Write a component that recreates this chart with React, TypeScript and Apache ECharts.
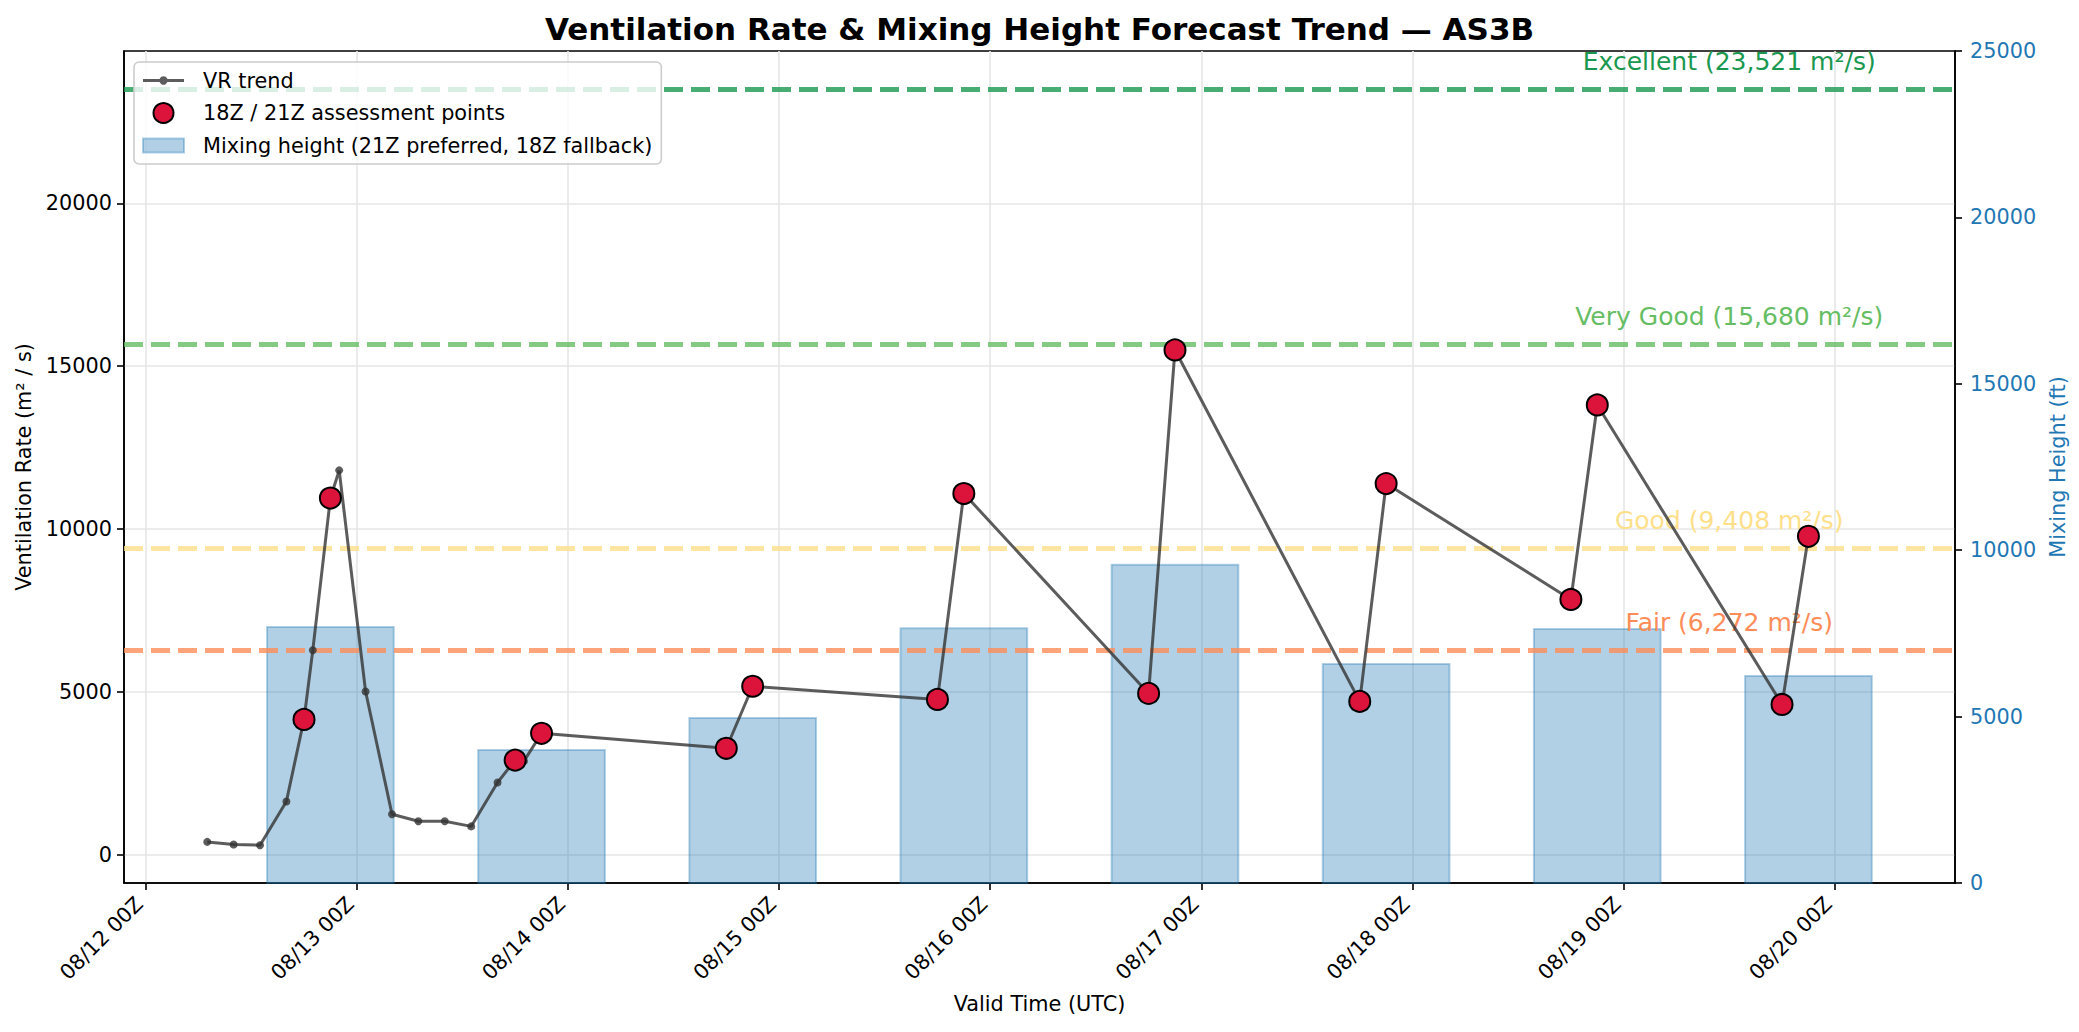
import React, { useEffect, useRef } from "react";
import * as echarts from "echarts";

// ---- data ----
const baseDay = 12; // 08/12 00Z is day 0
const trendTimes = ["08/12 07Z", "08/12 10Z", "08/12 13Z", "08/12 16Z", "08/12 19Z", "08/12 22Z", "08/13 01Z", "08/13 04Z", "08/13 07Z", "08/13 10Z", "08/13 13Z", "08/13 16Z", "08/13 19Z"];
const trendValues = [389, 307, 288, 1632, 6278, 11801, 5010, 1240, 1025, 1025, 865, 2215, 2870];

const assessTimes = ["08/12 18Z", "08/12 21Z", "08/13 18Z", "08/13 21Z", "08/14 18Z", "08/14 21Z", "08/15 18Z", "08/15 21Z", "08/16 18Z", "08/16 21Z", "08/17 18Z", "08/17 21Z", "08/18 18Z", "08/18 21Z", "08/19 18Z", "08/19 21Z"];
const assessValues = [4150, 10950, 2900, 3725, 3265, 5170, 4765, 11090, 4950, 15500, 4705, 11395, 7835, 13810, 4610, 9775];

const mixTimes = ["08/12 21Z", "08/13 21Z", "08/14 21Z", "08/15 21Z", "08/16 21Z", "08/17 21Z", "08/18 21Z", "08/19 21Z"];
const mixHeights = [7690, 4000, 4960, 7655, 9565, 6577, 7634, 6219];
const mixBarWidthDays = 0.6;

const xTickLabels = ["08/12 00Z", "08/13 00Z", "08/14 00Z", "08/15 00Z", "08/16 00Z", "08/17 00Z", "08/18 00Z", "08/19 00Z", "08/20 00Z"];
const leftTicks = [0, 5000, 10000, 15000, 20000];
const rightTicks = [0, 5000, 10000, 15000, 20000, 25000];

const thresholdNames = ["Fair", "Good", "Very Good", "Excellent"];
const thresholdValues = [6272, 9408, 15680, 23521];
const thresholdColors = ["#fc8d59", "#fee08b", "#66bd63", "#1a9850"];
const thresholdLabelTime = "08/19 12Z";

const FONT = "'DejaVu Sans', sans-serif";

function toDays(s: string): number {
  const [md, hz] = s.split(" ");
  const [, d] = md.split("/").map(Number);
  const h = parseInt(hz, 10);
  return d - baseDay + h / 24;
}

export default function App() {
  const ref = useRef<HTMLDivElement>(null);

  useEffect(() => {
    if (!ref.current) return;
    const chart = echarts.init(ref.current, undefined, { renderer: "svg" });

    const trendPts = trendTimes.map((t, i) => [toDays(t), trendValues[i]]);
    const assessPts = assessTimes.map((t, i) => [toDays(t), assessValues[i]]);
    const linePts = [...trendPts, ...assessPts].sort((a, b) => a[0] - b[0]);
    const barPts = mixTimes.map((t, i) => [toDays(t), mixHeights[i]]);

    // matplotlib-like 5% margins
    const xs = [...linePts.map((p) => p[0]), ...barPts.map((p) => p[0] - mixBarWidthDays / 2), ...barPts.map((p) => p[0] + mixBarWidthDays / 2)];
    const xLo = Math.min(...xs), xHi = Math.max(...xs);
    const xMin = xLo - 0.05 * (xHi - xLo);
    const xMax = xHi + 0.05 * (xHi - xLo);
    const ys = [...linePts.map((p) => p[1]), ...thresholdValues];
    const yLo = Math.min(...ys), yHi = Math.max(...ys);
    const yMin = yLo - 0.05 * (yHi - yLo);
    const yMax = yHi + 0.05 * (yHi - yLo);

    const xTickVals = xTickLabels.map((s) => toDays(s));
    const labelX = toDays(thresholdLabelTime);

    const axisLineStyle = { color: "#000", width: 1.6 };
    const gridLine = { show: true, lineStyle: { color: "#e6e6e6", width: 1.6 } };
    const plain = (v: number) => String(v);

    const option: any = {
      animation: false,
      backgroundColor: "#fff",
      title: {
        text: "Ventilation Rate & Mixing Height Forecast Trend — AS3B",
        left: "center",
        top: 8,
        textStyle: { fontSize: 31, fontWeight: "bold", fontFamily: FONT, color: "#000" },
      },
      grid: { left: 124, right: 124, top: 51, bottom: 149, show: true, borderColor: "#000", borderWidth: 1.6, backgroundColor: "transparent" },
      legend: {
        orient: "vertical",
        left: 134,
        top: 62,
        padding: [8, 9, 8, 8],
        itemGap: 11,
        itemWidth: 41,
        itemHeight: 20,
        backgroundColor: "rgba(255,255,255,0.8)",
        borderColor: "#cccccc",
        borderWidth: 1.6,
        borderRadius: 5,
        textStyle: { fontSize: 20.8, fontFamily: FONT, color: "#000", padding: [0, 0, 0, 14] },
        data: [
          { name: "VR trend", icon: "path://M0,9H41V12H0Z M20.5,6.3A4.2,4.2 0 1,1 20.49,6.3Z", itemStyle: { color: "rgba(51,51,51,0.8)" } },
          { name: "18Z / 21Z assessment points", icon: "circle" },
          { name: "Mixing height (21Z preferred, 18Z fallback)", icon: "path://M0,0H41V14H0Z" },
        ],
      },
      xAxis: {
        type: "value",
        min: xMin,
        max: xMax,
        axisLine: { show: true, onZero: false, lineStyle: axisLineStyle },
        axisTick: { show: true, length: 7, lineStyle: axisLineStyle, customValues: xTickVals },
        axisLabel: {
          customValues: xTickVals,
          formatter: (v: number) => xTickLabels[Math.round(v)] ?? "",
          rotate: 45,
          fontSize: 20.8,
          fontFamily: FONT,
          color: "#000",
          margin: 11,
          padding: [0, 9, 0, 0],
        },
        splitLine: gridLine,
        name: "Valid Time (UTC)",
        nameLocation: "middle",
        nameGap: 110,
        nameTextStyle: { fontSize: 20.8, fontFamily: FONT, color: "#000" },
      },
      yAxis: [
        {
          type: "value",
          min: yMin,
          max: yMax,
          position: "left",
          axisLine: { show: true, onZero: false, lineStyle: axisLineStyle },
          axisTick: { show: true, length: 7, lineStyle: axisLineStyle, customValues: leftTicks },
          axisLabel: { customValues: leftTicks, formatter: plain, fontSize: 20.8, fontFamily: FONT, color: "#000", margin: 12 },
          splitLine: gridLine,
          name: "Ventilation Rate (m² / s)",
          nameLocation: "middle",
          nameRotate: 90,
          nameGap: 84,
          nameTextStyle: { fontSize: 20.8, fontFamily: FONT, color: "#000" },
        },
        {
          type: "value",
          min: rightTicks[0],
          max: rightTicks[rightTicks.length - 1],
          interval: rightTicks[1] - rightTicks[0],
          position: "right",
          axisLine: { show: true, onZero: false, lineStyle: axisLineStyle },
          axisTick: { show: true, length: 7, lineStyle: axisLineStyle },
          axisLabel: { formatter: plain, fontSize: 20.8, fontFamily: FONT, color: "#1f77b4", margin: 15 },
          splitLine: { show: false },
          name: "Mixing Height (ft)",
          nameLocation: "middle",
          nameRotate: 90,
          nameGap: 80,
          nameTextStyle: { fontSize: 20.8, fontFamily: FONT, color: "#1f77b4" },
        },
      ],
      series: [
        {
          name: "Mixing height (21Z preferred, 18Z fallback)",
          type: "custom",
          xAxisIndex: 0,
          yAxisIndex: 1,
          z: 1,
          encode: { x: 0, y: 1 },
          data: barPts,
          itemStyle: { color: "rgba(31,119,180,0.35)", borderColor: "rgba(31,119,180,0.35)", borderWidth: 2 },
          renderItem: (params: any, api: any) => {
            const x = api.value(0);
            const h = api.value(1);
            const p0 = api.coord([x - mixBarWidthDays / 2, h]);
            const p1 = api.coord([x + mixBarWidthDays / 2, 0]);
            return {
              type: "rect",
              shape: { x: p0[0], y: p0[1], width: p1[0] - p0[0], height: p1[1] - p0[1] },
              style: { fill: "rgba(31,119,180,0.35)", stroke: "rgba(31,119,180,0.35)", lineWidth: 2 },
            };
          },
        },
        {
          name: "thresholds",
          type: "line",
          xAxisIndex: 0,
          yAxisIndex: 0,
          z: 2,
          data: [],
          markLine: {
            silent: true,
            z: 2,
            symbol: ["none", "none"],
            label: { show: false },
            data: thresholdValues.map((v, i) => ({
              yAxis: v,
              lineStyle: { color: thresholdColors[i], width: 5, type: [19, 8], opacity: 0.8 },
            })),
          },
          markPoint: {
            silent: true,
            z: 3,
            symbol: "circle",
            symbolSize: 0.01,
            itemStyle: { color: "transparent" },
            data: thresholdValues.map((v, i) => ({
              coord: [labelX, v],
              label: {
                show: true,
                position: "top",
                distance: 15,
                formatter: `${thresholdNames[i]} (${v.toLocaleString("en-US")} m²/s)`,
                color: thresholdColors[i],
                fontSize: 25,
                fontFamily: FONT,
              },
            })),
          },
        },
        {
          name: "VR trend",
          type: "line",
          xAxisIndex: 0,
          yAxisIndex: 0,
          z: 4,
          data: linePts,
          symbol: "circle",
          symbolSize: 8,
          showSymbol: true,
          lineStyle: { color: "rgba(51,51,51,0.8)", width: 3 },
          itemStyle: { color: "rgba(51,51,51,0.8)", borderWidth: 0 },
        },
        {
          name: "18Z / 21Z assessment points",
          type: "scatter",
          xAxisIndex: 0,
          yAxisIndex: 0,
          z: 5,
          data: assessPts,
          symbol: "circle",
          symbolSize: 21,
          itemStyle: { color: "#dc143c", borderColor: "#000", borderWidth: 2, opacity: 1 },
        },
      ],
    };

    chart.setOption(option);
    return () => chart.dispose();
  }, []);

  return <div ref={ref} style={{ position: "fixed", left: 0, top: 0, width: 2079, height: 1032 }} />;
}
